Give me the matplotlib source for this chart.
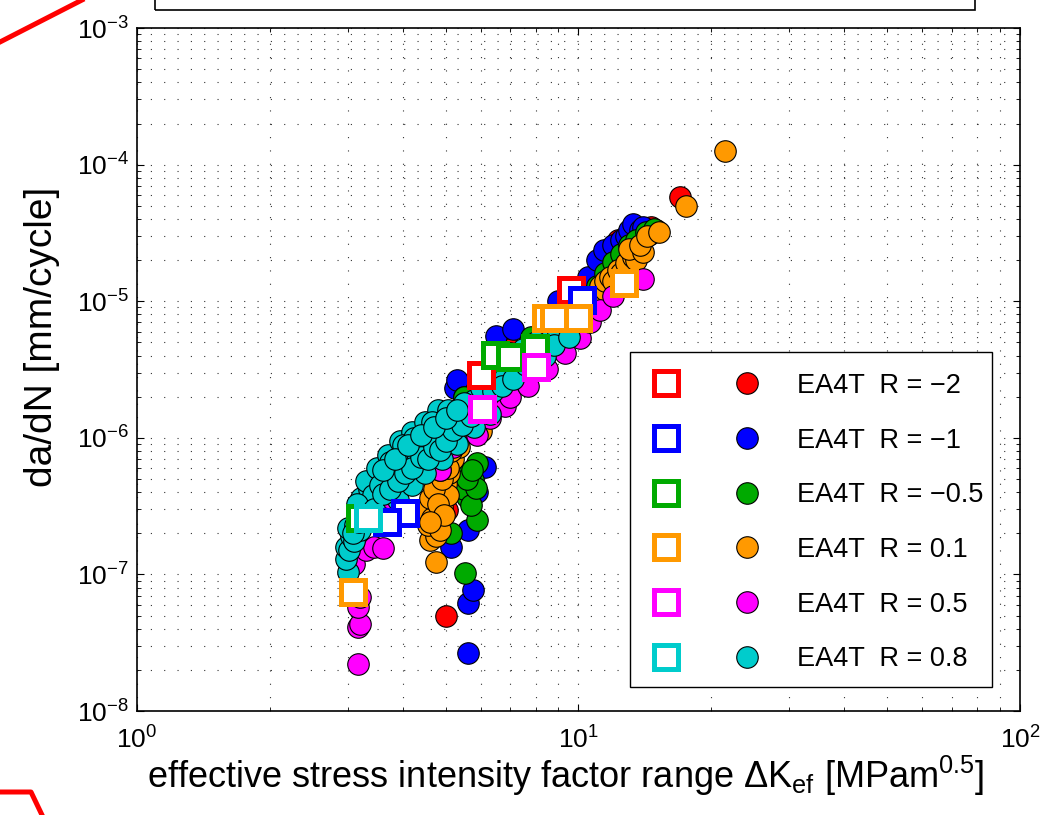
import matplotlib
matplotlib.use('Agg')
import matplotlib.pyplot as plt
from matplotlib.lines import Line2D
from matplotlib.patches import Rectangle
from matplotlib.legend_handler import HandlerTuple

plt.rcParams['font.family'] = ['Liberation Sans', 'DejaVu Sans']
plt.rcParams['mathtext.fontset'] = 'custom'
plt.rcParams['mathtext.rm'] = 'Liberation Sans'
plt.rcParams['mathtext.it'] = 'Liberation Sans:italic'
plt.rcParams['mathtext.bf'] = 'Liberation Sans:bold'

# --- data: circles (measured points) ---
dk_m2 = [5.02, 5.04, 5.8, 6.6, 7.0, 8.5, 9.5, 10.5, 11.5, 12.3, 13.0, 13.5, 14.6, 15.0, 17.0]
dadn_m2 = [4.96e-8, 2.96e-7, 2.5e-6, 3.6e-6, 4.5e-6, 7.5e-6, 1.05e-5, 1.3e-5, 1.8e-5, 2.8e-5,
           2.5e-5, 3.2e-5, 3.49e-5, 3.3e-5, 5.8e-5]

dk_m1 = [5.63, 5.63, 5.78, 5.13, 5.63, 5.9, 6.15, 5.25, 5.32, 5.5, 6.5, 7.1, 9.0, 9.5, 10.0,
         10.5, 11.0, 11.4, 12.0, 12.5, 12.8, 13.0, 13.3, 13.8, 14.0, 14.5]
dadn_m1 = [2.66e-8, 6.2e-8, 7.7e-8, 1.59e-7, 2.1e-7, 4.0e-7, 6.1e-7, 2.3e-6, 2.65e-6, 2.0e-6,
           5.6e-6, 6.3e-6, 1.0e-5, 1.1e-5, 1.2e-5, 1.5e-5, 2.0e-5, 2.37e-5, 2.6e-5, 2.8e-5,
           3.0e-5, 3.3e-5, 3.7e-5, 3.3e-5, 3.5e-5, 3.1e-5]

dk_m05 = [5.54, 5.13, 5.9, 5.6, 5.5, 5.78, 5.65, 5.9, 5.7, 5.85, 5.6, 5.75, 4.5, 5.5, 6.2,
          7.0, 7.8, 8.5, 9.0, 9.5, 10.0, 10.5, 11.0, 11.5, 12.0, 12.5, 13.0, 13.5, 14.2, 14.8]
dadn_m05 = [1.02e-7, 2.0e-7, 2.5e-7, 3.7e-7, 4.2e-7, 4.9e-7, 5.5e-7, 6.5e-7, 3.2e-7, 4.3e-7,
            5.0e-7, 5.8e-7, 1.1e-6, 2.0e-6, 3.0e-6, 4.2e-6, 5.5e-6, 6.2e-6, 7.0e-6, 8.0e-6,
            9.5e-6, 1.1e-5, 1.3e-5, 1.6e-5, 1.95e-5, 2.2e-5, 2.6e-5, 2.8e-5, 3.2e-5, 3.4e-5]

dk_01 = [4.76, 4.6, 4.75, 4.55, 4.8, 4.65, 4.9, 4.7, 4.85, 5.0, 4.75, 5.1, 4.95, 5.2, 5.35,
         5.25, 4.5, 4.65, 4.6, 4.85, 5.05, 4.7, 4.9, 5.05, 4.8, 4.95, 4.6, 5.15, 4.85,
         6.0, 6.5, 7.2, 8.0, 9.0, 9.5, 10.0, 10.3, 10.5, 10.8, 11.2, 11.5, 11.5, 11.8, 12.0,
         12.3, 12.5, 12.8, 13.3, 13.5, 13.0, 14.0, 13.8, 14.3, 15.2, 17.5, 21.5]
dadn_01 = [1.23e-7, 1.8e-7, 1.9e-7, 2.3e-7, 2.5e-7, 2.9e-7, 3.1e-7, 3.5e-7, 4.0e-7, 4.6e-7,
           4.6e-7, 5.5e-7, 6.3e-7, 7.0e-7, 8.5e-7, 1.0e-6, 3.0e-7, 2.6e-7, 3.6e-7, 2.1e-7,
           3.8e-7, 4.2e-7, 5.0e-7, 6.0e-7, 3.3e-7, 2.7e-7, 2.4e-7, 8.0e-7, 5.8e-7,
           1.13e-6, 2.5e-6, 3.3e-6, 4.3e-6, 6.5e-6, 8.0e-6, 8.5e-6, 9.5e-6, 1.0e-5, 1.05e-5,
           1.3e-5, 1.2e-5, 1.4e-5, 1.5e-5, 1.4e-5, 1.7e-5, 1.6e-5, 1.9e-5, 2.1e-5, 2.0e-5,
           2.4e-5, 2.3e-5, 2.6e-5, 3.0e-5, 3.2e-5, 5.0e-5, 1.26e-4]

dk_05 = [3.17, 3.17, 3.2, 3.17, 3.2, 3.1, 3.3, 3.45, 3.6, 3.8, 4.0, 4.6, 4.86, 5.2, 5.9, 6.3,
         6.8, 7.0, 7.7, 8.5, 9.3, 10.1, 10.6, 11.2, 12.0, 14.0]
dadn_05 = [2.2e-8, 4.1e-8, 4.3e-8, 5.8e-8, 6.8e-8, 1.2e-7, 1.5e-7, 1.6e-7, 1.55e-7, 3.0e-7,
           4.5e-7, 6.5e-7, 5.8e-7, 8.5e-7, 1.05e-6, 1.4e-6, 1.7e-6, 2.0e-6, 2.4e-6, 3.2e-6,
           4.2e-6, 5.4e-6, 7.0e-6, 8.6e-6, 1.1e-5, 1.45e-5]

dk_08 = [3.0, 2.98, 2.97, 3.02, 3.05, 3.1, 3.0, 3.12, 3.2, 3.15, 3.25, 3.3, 3.22, 3.4, 3.35,
         3.5, 3.45, 3.6, 3.7, 3.6, 3.8, 3.9, 3.85, 4.0, 4.1, 4.05, 4.2, 4.3, 4.35, 4.5, 4.6,
         4.4, 4.7, 4.8, 4.9, 5.0, 5.1, 5.3, 5.4, 5.6, 5.8, 6.2, 6.5, 7.0, 7.3, 7.5, 7.8, 8.0,
         8.2, 8.6, 9.0,
         3.3, 3.5, 3.7, 3.95, 4.2, 4.5, 4.8, 3.6, 3.9, 4.2, 4.5, 4.9, 5.3, 5.8, 6.3, 6.8, 7.2,
         8.4, 8.8, 9.5, 3.08, 3.18, 3.28, 3.42, 3.55, 3.75, 4.0, 4.25, 4.65, 5.05, 5.5,
         3.15, 3.3, 3.45, 3.6, 3.75, 3.9, 4.05, 4.2, 4.4, 4.55, 4.7, 4.85, 5.0, 5.2, 5.45,
         5.7, 6.0, 6.0, 6.4, 6.7, 7.1, 7.6, 3.6, 3.85, 4.1, 4.4, 4.7, 5.0, 5.3]
dadn_08 = [1.05e-7, 1.3e-7, 1.6e-7, 1.5e-7, 1.9e-7, 1.75e-7, 2.2e-7, 2.3e-7, 2.1e-7, 2.8e-7,
           2.6e-7, 3.2e-7, 3.6e-7, 3.4e-7, 4.2e-7, 4.0e-7, 5.0e-7, 4.8e-7, 5.6e-7, 6.0e-7,
           6.3e-7, 5.5e-7, 7.2e-7, 7.0e-7, 6.2e-7, 8.2e-7, 7.8e-7, 6.8e-7, 9.0e-7, 8.5e-7,
           1.0e-6, 1.05e-6, 1.15e-6, 9.5e-7, 1.25e-6, 1.1e-6, 1.4e-6, 1.3e-6, 1.6e-6, 1.5e-6,
           1.9e-6, 2.0e-6, 2.6e-6, 3.0e-6, 3.6e-6, 4.5e-6, 4.0e-6, 5.0e-6, 4.6e-6, 5.2e-6, 6.0e-6,
           4.8e-7, 6.0e-7, 7.5e-7, 9.5e-7, 1.1e-6, 1.3e-6, 1.6e-6, 2.6e-7, 3.5e-7, 4.5e-7,
           5.5e-7, 7.0e-7, 9.0e-7, 1.2e-6, 1.5e-6, 2.8e-6, 3.2e-6, 4.0e-6, 4.8e-6, 5.5e-6,
           2.0e-7, 2.4e-7, 3.0e-7, 3.8e-7, 4.5e-7, 6.6e-7, 8.8e-7, 1.0e-6, 1.3e-6, 1.6e-6, 1.8e-6,
           3.3e-7, 2.7e-7, 3.0e-7, 3.9e-7, 4.2e-7, 4.8e-7, 5.5e-7, 6.0e-7, 7.2e-7, 7.0e-7,
           8.5e-7, 8.2e-7, 9.5e-7, 1.15e-6, 1.25e-6, 1.45e-6, 1.7e-6, 2.3e-6, 2.2e-6, 2.4e-6,
           2.7e-6, 3.4e-6, 5.8e-7, 7.0e-7, 8.8e-7, 1.05e-6, 1.2e-6, 1.4e-6, 1.6e-6]

# --- data: squares ---
sq_dk_m2 = [6.0, 9.64]
sq_dadn_m2 = [2.88e-6, 1.21e-5]
sq_dk_m1 = [10.2, 4.05, 3.69]
sq_dadn_m1 = [1.02e-5, 2.82e-7, 2.42e-7]
sq_dk_m05 = [6.48, 7.01, 7.99, 3.20]
sq_dadn_m05 = [4.04e-6, 3.9e-6, 4.54e-6, 2.59e-7]
sq_dk_01 = [8.42, 8.78, 9.95, 12.65, 3.09]
sq_dadn_01 = [7.53e-6, 7.53e-6, 7.53e-6, 1.36e-5, 7.43e-8]
sq_dk_05 = [8.03, 6.06]
sq_dadn_05 = [3.3e-6, 1.62e-6]
sq_dk_08 = [3.34]
sq_dadn_08 = [2.59e-7]

labels = ['EA4T  R = \u22122', 'EA4T  R = \u22121', 'EA4T  R = \u22120.5',
          'EA4T  R = 0.1', 'EA4T  R = 0.5', 'EA4T  R = 0.8']
colors = ['#ff0000', '#0000ff', '#00aa00', '#ff9900', '#ff00ff', '#00cccc']

circles = [(dk_m2, dadn_m2), (dk_m1, dadn_m1), (dk_m05, dadn_m05),
           (dk_01, dadn_01), (dk_05, dadn_05), (dk_08, dadn_08)]
squares = [(sq_dk_m2, sq_dadn_m2), (sq_dk_m1, sq_dadn_m1), (sq_dk_m05, sq_dadn_m05),
           (sq_dk_01, sq_dadn_01), (sq_dk_05, sq_dadn_05), (sq_dk_08, sq_dadn_08)]

fig = plt.figure(figsize=(10.5, 8.15), dpi=100)
ax = fig.add_axes([0.1305, 0.1276, 0.8409, 0.838])

circ_style = dict(ls='none', marker='o', ms=15.5, mec='k', mew=0.8)
sq_style = dict(ls='none', marker='s', ms=17, mfc='white', mew=3.6)

for (x, y), c in zip(circles, colors):
    ax.plot(x, y, mfc=c, **circ_style)
for (x, y), c in zip(squares, colors):
    ax.plot(x, y, mec=c, **sq_style)

ax.set_xscale('log')
ax.set_yscale('log')
ax.set_xlim(1, 100)
ax.set_ylim(1e-8, 1e-3)

ax.grid(True, which='both', color='k', alpha=0.8, lw=0.8, ls=(0, (1, 11)))
ax.tick_params(which='both', direction='in', top=True, right=True, labelsize=19)
ax.tick_params(which='major', length=5, width=0.8)
ax.tick_params(which='minor', length=3, width=0.6)
ax.tick_params(axis='x', pad=11)
ax.tick_params(axis='y', pad=6)
for s in ax.spines.values():
    s.set_linewidth(1.2)

ax.set_xlabel(r'effective stress intensity factor range $\Delta$K$_{\mathrm{ef}}$ [MPam$^{0.5}$]',
              fontsize=26)
ax.set_ylabel('da/dN [mm/cycle]', fontsize=28)
ax.xaxis.set_label_coords(0.486, -0.062)
ax.yaxis.set_label_coords(-0.087, 0.548)

# legend: white box with black frame, entries laid out by ax.legend
ax.add_patch(Rectangle((0.5583, 0.0351), 0.41, 0.4905, transform=ax.transAxes,
                       fc='white', ec='k', lw=1.0, zorder=4.9))
handles = []
for c in colors:
    sq = Line2D([], [], mec=c, **sq_style)
    ci = Line2D([], [], mfc=c, **circ_style)
    handles.append((sq, ci))
ax.legend(handles, labels, loc='center', bbox_to_anchor=(0.7627, 0.2759),
          borderaxespad=0, fontsize=19.5, frameon=False, handlelength=5.1,
          handletextpad=0.8, borderpad=0, labelspacing=1.06,
          handler_map={tuple: HandlerTuple(ndivide=None, pad=0.82)})

# decorations outside the axes
fig.add_artist(Rectangle((155 / 1050, 1 - 10 / 815), 820 / 1050, 0.05,
                         transform=fig.transFigure, fill=False, ec='k', lw=1.2))
fig.add_artist(Line2D([0, 82 / 1050], [1 - 42 / 815, 1.0], transform=fig.transFigure,
                      color='red', lw=3.6))
fig.add_artist(Line2D([0, 31 / 1050, 42 / 1050], [1 - 792 / 815, 1 - 792 / 815, 0.0],
                      transform=fig.transFigure, color='red', lw=3.6))

fig.savefig('out.png', dpi=100)
